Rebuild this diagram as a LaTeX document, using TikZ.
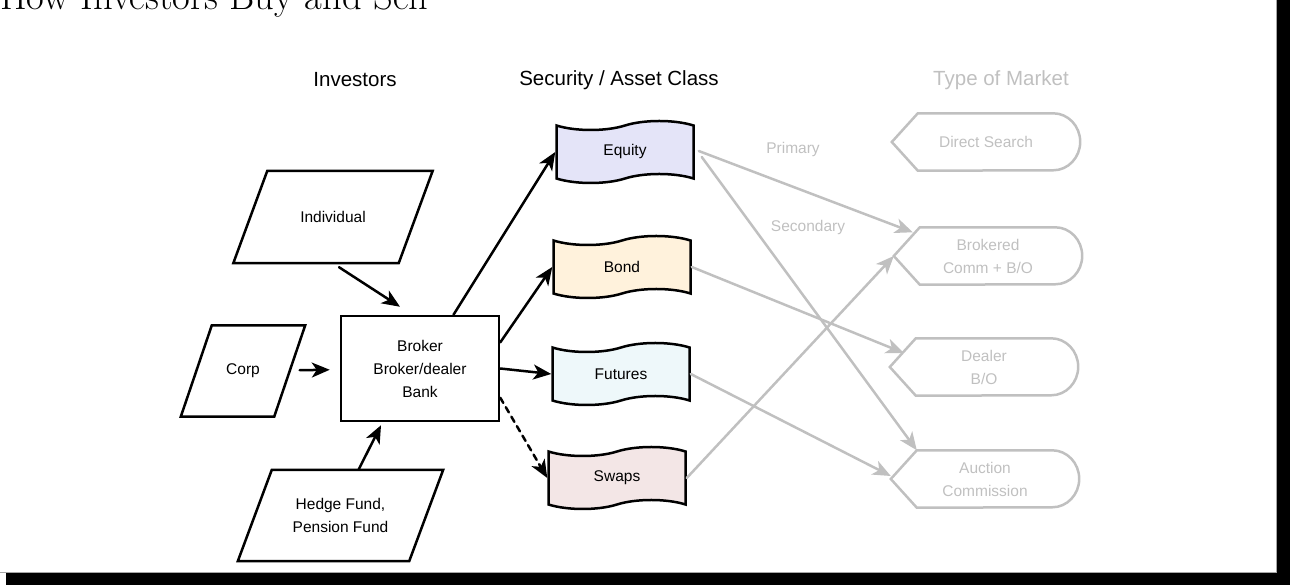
\documentclass[tikz,border=0pt]{standalone}
\usepackage{fontspec}
\setsansfont{Liberation Sans}
\usetikzlibrary{shapes.symbols,arrows.meta}
\definecolor{mktgray}{RGB}{192,192,192}
\definecolor{equityfill}{RGB}{228,228,248}
\definecolor{bondfill}{RGB}{255,242,220}
\definecolor{futuresfill}{RGB}{238,248,250}
\definecolor{swapsfill}{RGB}{243,230,230}
\begin{document}
\begin{tikzpicture}[x=1pt, y=1pt, line cap=round, font=\sffamily\fontsize{15.5}{23}\selectfont, >={Stealth[length=18pt,width=15pt,inset=5pt]}]
	\tikzset{head/.style={font=\sffamily\fontsize{20.5}{24}\selectfont},
		investor/.style={minimum height=92pt, inner sep=0pt, align=center},
		asset/.style={draw, line width=2.5pt, tape, tape bend height=9pt, minimum width=137pt, minimum height=62pt, inner sep=0pt},
		mkt/.style={minimum width=188pt, minimum height=57pt, inner sep=0pt, align=center, text=mktgray},
		arr/.style={->, line width=2.5pt},
		garr/.style={->, line width=2.5pt, draw=mktgray}}
	\useasboundingbox (0,0) rectangle (1290,588);
	\node[font=\rmfamily\fontsize{38.5}{42}\selectfont, anchor=base west, inner sep=0pt] (title) at (0,578) {How Investors Buy and Sell};
	\node[head] (investors) at (355,508) {Investors};
	\node[head] (security) at (619,508) {Security / Asset Class};
	\node[head, text=mktgray] (market) at (1001,508) {Type of Market};
	% investors
	\node[investor, minimum width=165pt] (individual) at (333,371) {Individual};
	\node[investor, minimum width=93pt, minimum height=91pt] (corp) at (243,217) {Corp};
	\node[investor, minimum width=171pt, minimum height=91pt] (hedge) at (340.5,72.5) {Hedge Fund,\\Pension Fund};
	\foreach \p/\s in {individual/17,corp/15.5,hedge/17}
		\draw[line width=2.5pt] ([xshift=-\s]\p.south west) -- ([xshift=\s]\p.north west) -- ([xshift=\s]\p.north east) -- ([xshift=-\s]\p.south east) -- cycle;
	\node[draw, line width=2.5pt, minimum width=158pt, minimum height=105pt, align=center] (broker) at (420,219.5) {Broker\\Broker/dealer\\Bank};
	% asset classes
	\node[asset, fill=equityfill] (equity) at (625,436) {Equity};
	\node[asset, fill=bondfill] (bond) at (622,321) {Bond};
	\node[asset, fill=futuresfill] (futures) at (621,214) {Futures};
	\node[asset, fill=swapsfill] (swaps) at (617,110) {Swaps};
	% markets
	\node[mkt] (direct) at (986,446) {Direct Search};
	\node[mkt] (brokered) at (988,332) {Brokered\\Comm + B/O};
	\node[mkt] (dealer) at (984,221) {Dealer\\B/O};
	\node[mkt] (auction) at (985,109) {Auction\\Commission};
	\foreach \m in {direct,brokered,dealer,auction}
		\draw[mktgray, line width=2.5pt] (\m.west) -- ([xshift=26pt]\m.north west) -- ([xshift=-27pt]\m.north east) arc[start angle=90, end angle=-90, x radius=27pt, y radius=28.5pt] -- ([xshift=26pt]\m.south west) -- cycle;
	\node[text=mktgray] (primary) at (793,438) {Primary};
	\node[text=mktgray] (secondary) at (808,360) {Secondary};
	% connectors
	\draw[arr] ([xshift=6pt,yshift=-4pt]individual.south) -- ([xshift=-20pt,yshift=8pt]broker.north);
	\draw[arr, shorten <=10pt, shorten >=10pt] (corp) -- (broker);
	\draw[arr] ([xshift=18pt]hedge.north) -- ([xshift=-39pt,yshift=-3pt]broker.south);
	\draw[arr] (broker) -- (equity.west);
	\draw[arr] (broker.18) -- (bond.west);
	\draw[arr] (broker.east) -- (futures.west);
	\draw[arr, dash pattern=on 6pt off 5pt] (broker.-20) -- (swaps.west);
	\draw[garr] ([xshift=4pt,yshift=1pt]equity.east) -- ([xshift=19pt,yshift=-5pt]brokered.north west);
	\draw[garr] ([xshift=7pt,yshift=-5pt]equity.east) -- ([xshift=26pt]auction.north west);
	\draw[garr] (bond.east) -- ([xshift=14pt,yshift=14pt]dealer.west);
	\draw[garr] (futures.east) -- ([yshift=3pt]auction.west);
	\draw[garr] (swaps.east) -- (brokered.west);
	% slide shadow
	\fill[black] (1277,3) rectangle (1290,588);
	\fill[black] (6,3) rectangle (1290,15);
	\draw[gray!70, line width=1pt] (0,15.5) -- (1276.5,15.5) -- (1276.5,588);
\end{tikzpicture}
\end{document}
